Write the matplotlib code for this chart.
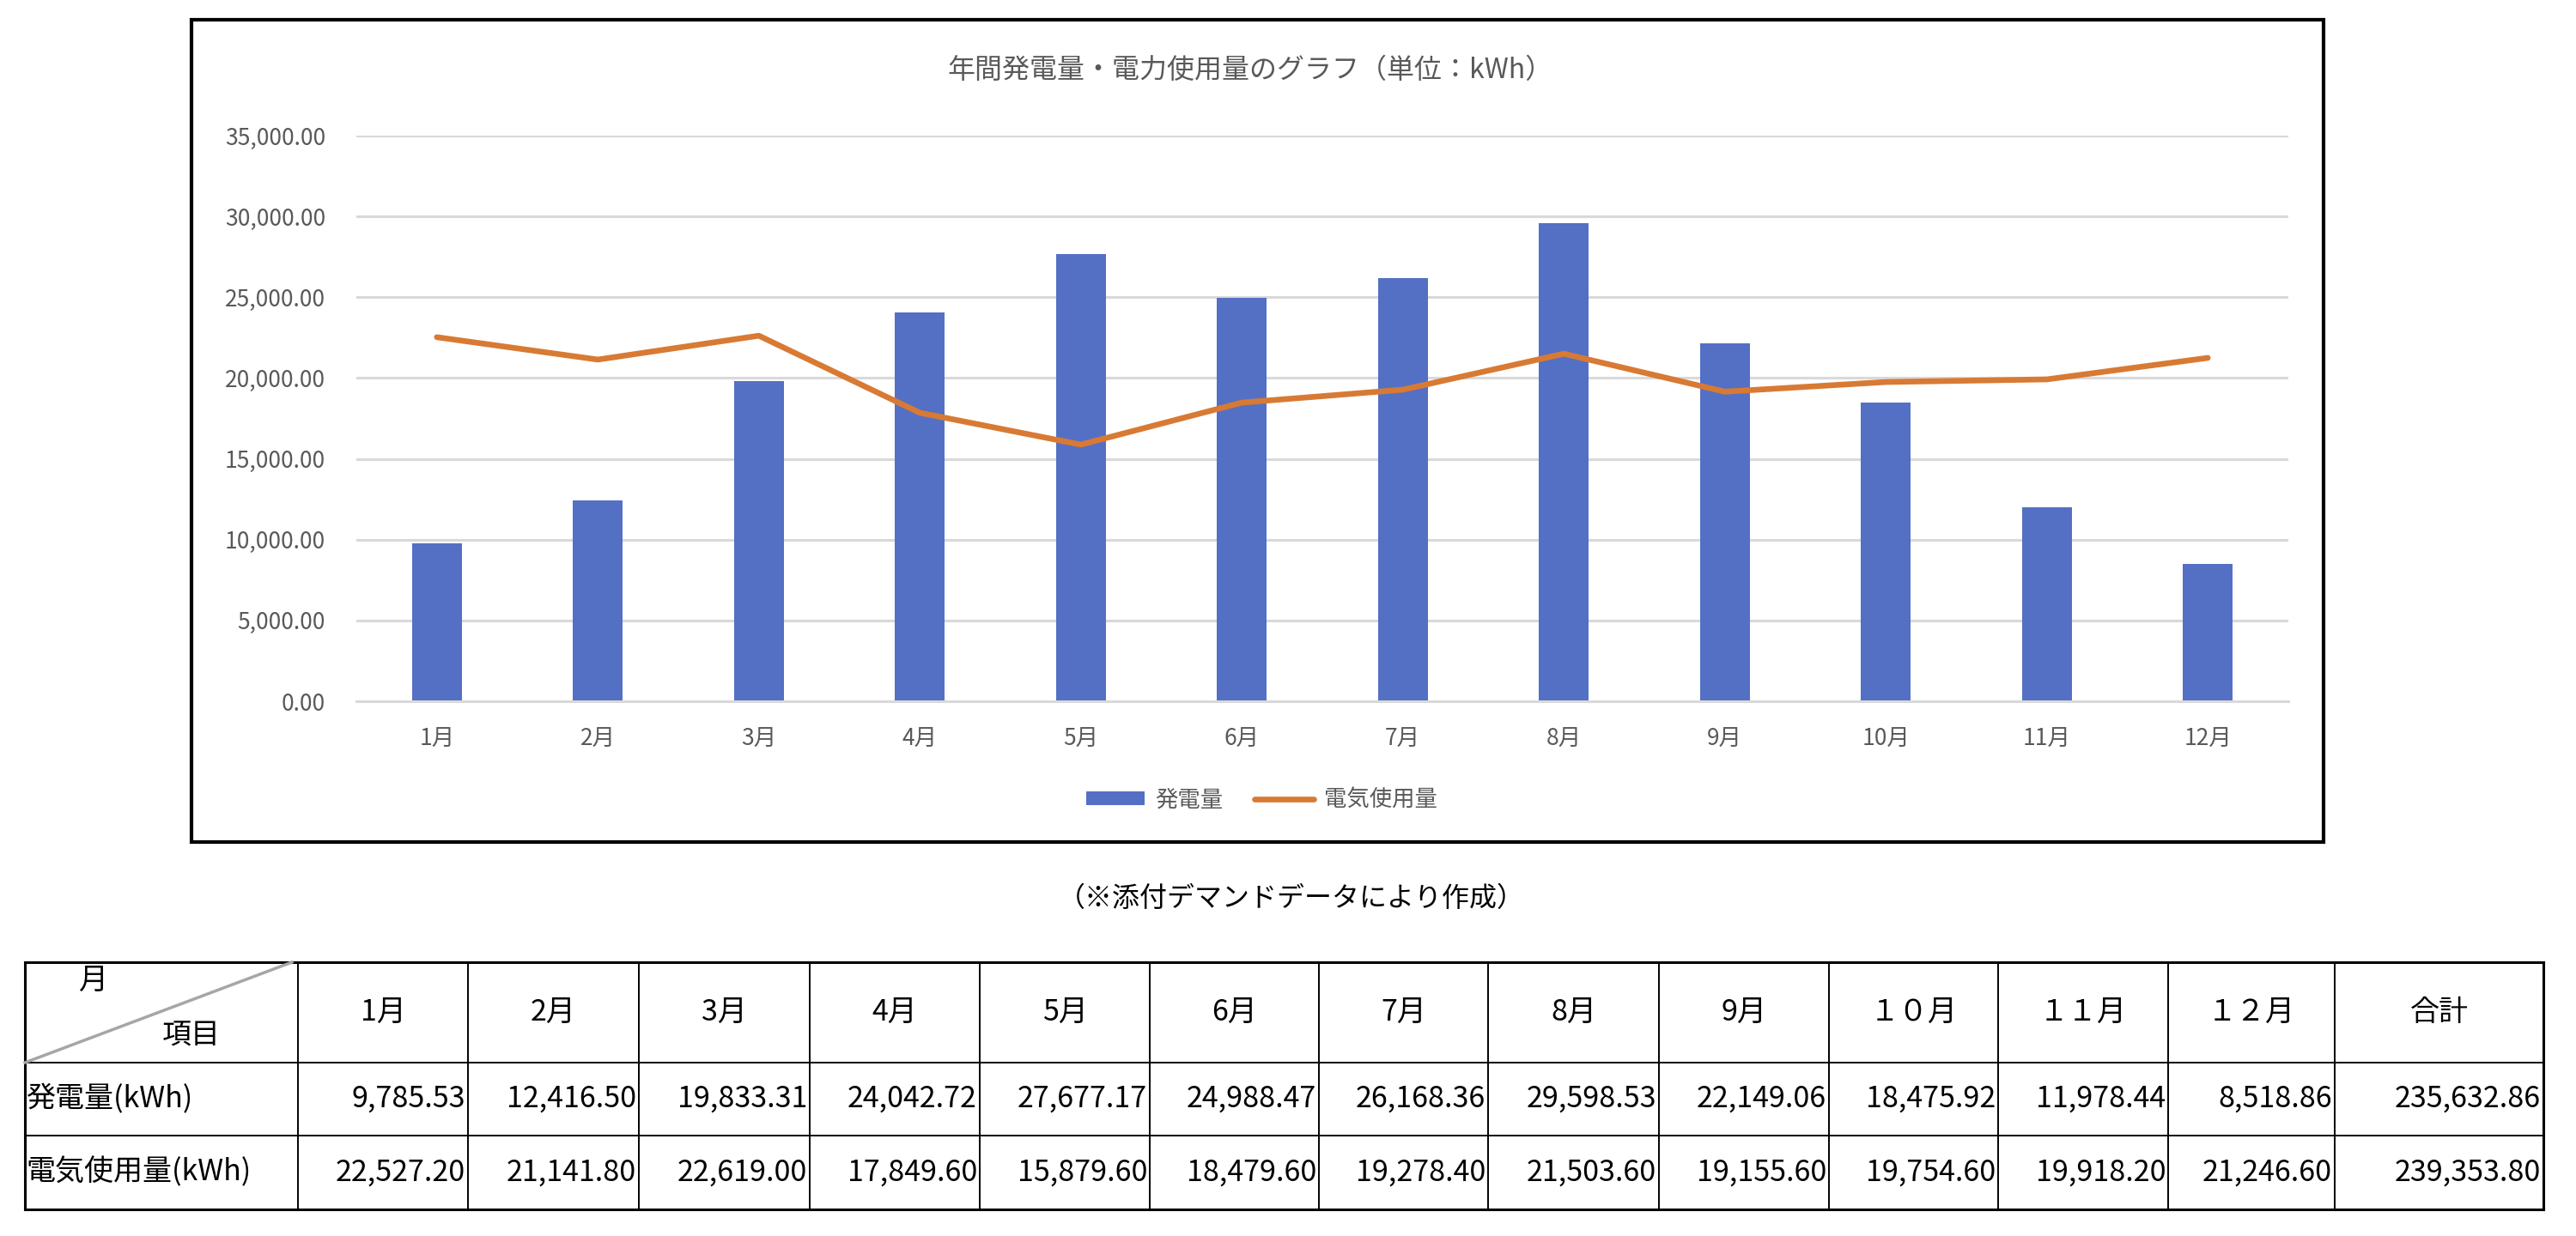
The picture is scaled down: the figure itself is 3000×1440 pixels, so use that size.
import matplotlib
matplotlib.use('Agg')
import matplotlib.pyplot as plt
from matplotlib.patches import Rectangle

# 日本語が表示できるフォントを指定
plt.rcParams['font.family'] = ['Noto Sans CJK JP', 'DejaVu Sans']

# ----------------- データ -----------------
months = ['1月', '2月', '3月', '4月', '5月', '6月',
          '7月', '8月', '9月', '10月', '11月', '12月']
table_months = ['1月', '2月', '3月', '4月', '5月', '6月',
                '7月', '8月', '9月', '１０月', '１１月', '１２月']

generation = [9785.53, 12416.50, 19833.31, 24042.72, 27677.17, 24988.47,
              26168.36, 29598.53, 22149.06, 18475.92, 11978.44, 8518.86]
usage = [22527.20, 21141.80, 22619.00, 17849.60, 15879.60, 18479.60,
         19278.40, 21503.60, 19155.60, 19754.60, 19918.20, 21246.60]
totals = [235632.86, 239353.80]

y_ticks = [0, 5000, 10000, 15000, 20000, 25000, 30000, 35000]
row_labels = ['発電量(kWh)', '電気使用量(kWh)']

# ----------------- 図の準備 -----------------
W, H = 3000, 1440
fig = plt.figure(figsize=(30, 14.4), dpi=100)

# 図全体をピクセル座標で扱うための下地
base = fig.add_axes([0, 0, 1, 1])
base.set_xlim(0, W)
base.set_ylim(H, 0)
base.axis('off')

# グラフの枠
base.add_patch(Rectangle((223, 23), 2483, 958, fill=False, lw=3, ec='black'))

# タイトル
base.text(1456, 82, '年間発電量・電力使用量のグラフ（単位：kWh）',
          ha='center', va='center', fontsize=23, color='#595959')

# ----------------- グラフ -----------------
ax = fig.add_axes([415 / W, 1 - 817 / H, 2250 / W, 659 / H])
ax.patch.set_alpha(0)
x = list(range(len(months)))

bars = ax.bar(x, generation, width=0.31, color='#5470c4', zorder=2, label='発電量')
line, = ax.plot(x, usage, color='#d87a34', lw=4.8, zorder=3, label='電気使用量',
                solid_capstyle='round', solid_joinstyle='round')

ax.set_xlim(-0.5, 11.5)
ax.set_ylim(0, 35000)
ax.set_yticks(y_ticks)
ax.set_yticklabels([f'{v:,.2f}' for v in y_ticks])
ax.set_xticks(x)
ax.set_xticklabels(months)

ax.grid(axis='y', color='#d9d9d9', lw=2.2, zorder=0)
ax.set_axisbelow(True)
for s in ['top', 'right', 'left']:
    ax.spines[s].set_visible(False)
ax.spines['bottom'].set_color('#d9d9d9')
ax.spines['bottom'].set_linewidth(2.2)

ax.tick_params(length=0, labelsize=19, labelcolor='#595959')
ax.tick_params(axis='y', pad=26)
ax.tick_params(axis='x', pad=22)

# 凡例（棒 → 折れ線の順）
ax.legend(handles=[bars, line], loc='center', bbox_to_anchor=(1469 / W, 1 - 932 / H),
          bbox_transform=fig.transFigure, ncol=2, frameon=False, fontsize=19,
          handlelength=2.6, handleheight=0.58, handletextpad=0.45,
          columnspacing=1.4, labelcolor='#595959')

# 注記
base.text(1504, 1047, '（※添付デマンドデータにより作成）',
          ha='center', va='center', fontsize=23, color='black')

# ----------------- 表 -----------------
col_edges = [29, 347, 545, 744, 943, 1141, 1339, 1536, 1733, 1932,
             2130, 2327, 2525, 2719, 2962]
row_edges = [1121, 1238, 1323, 1409]
fs = 24.5

for i, yy in enumerate(row_edges):
    lw = 2.2 if i in (0, len(row_edges) - 1) else 1.4
    base.plot([col_edges[0], col_edges[-1]], [yy, yy], color='black', lw=lw)
for j, xx in enumerate(col_edges):
    lw = 2.2 if j in (0, len(col_edges) - 1) else 1.4
    base.plot([xx, xx], [row_edges[0], row_edges[-1]], color='black', lw=lw)

# 見出しセルの斜線
base.plot([col_edges[0], 340], [row_edges[1], row_edges[0]], color='#a6a6a6', lw=2.5)
base.text(108, 1142, '月', ha='center', va='center', fontsize=fs)
base.text(223, 1207, '項目', ha='center', va='center', fontsize=fs)

header_y = (row_edges[0] + row_edges[1]) / 2
headers = table_months + ['合計']
for j, h in enumerate(headers):
    cx = (col_edges[j + 1] + col_edges[j + 2]) / 2
    base.text(cx, header_y, h, ha='center', va='center', fontsize=fs)

rows = [generation + [totals[0]], usage + [totals[1]]]
for r, (label, vals) in enumerate(zip(row_labels, rows)):
    cy = (row_edges[r + 1] + row_edges[r + 2]) / 2
    base.text(col_edges[0] + 1, cy, label, ha='left', va='center', fontsize=fs)
    for j, v in enumerate(vals):
        base.text(col_edges[j + 2] - 3, cy, f'{v:,.2f}', ha='right', va='center', fontsize=fs)

fig.savefig('out.png', dpi=100)
